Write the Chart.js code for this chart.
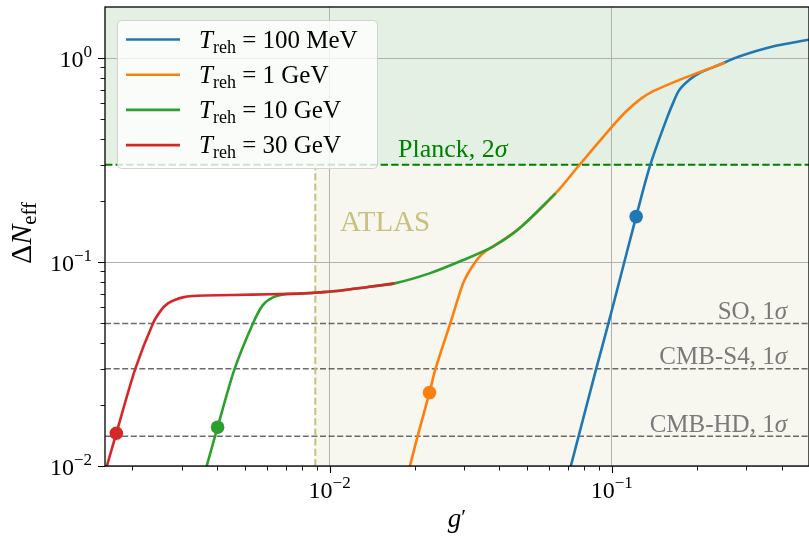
<!DOCTYPE html>
<html>
<head>
<meta charset="utf-8">
<script src="https://cdn.jsdelivr.net/npm/chart.js@4.4.1/dist/chart.umd.min.js"></script>
<style>
  html, body { margin: 0; padding: 0; background: #fff; }
  #wrap { width: 809px; height: 537px; }
</style>
</head>
<body>
<div id="wrap"><canvas id="chart" width="809" height="537"></canvas></div>
<script>
// axis ranges (log-log)
const X_MIN = 0.0016;
const X_MAX = 0.5;
const Y_MIN = 0.01;
const Y_MAX = 1.78;

// Delta N_eff vs g' for each reheating temperature
const blueG = [0.0712, 0.0769, 0.0881, 0.0973, 0.1108, 0.122, 0.137, 0.156, 0.1667, 0.1738, 0.1885, 0.2045, 0.2406, 0.2827, 0.3718, 0.5];
const blueN = [0.0097, 0.0146, 0.03, 0.05, 0.1, 0.167, 0.3, 0.498, 0.624, 0.699, 0.782, 0.844, 0.927, 1.018, 1.14, 1.23];

const orangeG = [0.0189, 0.02051, 0.0226, 0.02374, 0.02677, 0.0289, 0.03007, 0.032, 0.034, 0.0359, 0.0379, 0.0471, 0.0632, 0.0769, 0.1008, 0.1124, 0.1253, 0.1397, 0.1738, 0.2045, 0.2528];
const orangeN = [0.00903, 0.014, 0.0229, 0.03, 0.05, 0.0702, 0.0816, 0.0948, 0.1062, 0.1136, 0.119, 0.1464, 0.217, 0.3, 0.465, 0.547, 0.624, 0.686, 0.782, 0.852, 0.9515];

const greenG = [0.0036, 0.00401, 0.00461, 0.00535, 0.0058, 0.0063, 0.00702, 0.00783, 0.0092, 0.01085, 0.0135, 0.01698, 0.0226, 0.0296, 0.0379, 0.0471, 0.0632];
const greenN = [0.0091, 0.0155, 0.03, 0.05, 0.0615, 0.0671, 0.0697, 0.0700, 0.0710, 0.0723, 0.0753, 0.0786, 0.088, 0.102, 0.119, 0.1464, 0.217];

const redG = [0.0016, 0.001755, 0.00205, 0.002366, 0.00253, 0.002674, 0.002825, 0.003022, 0.00328, 0.0036, 0.00455, 0.0062, 0.00783, 0.0092, 0.01085, 0.0135, 0.01698];
const redN = [0.0093, 0.01447, 0.03, 0.05, 0.0581, 0.0627, 0.0651, 0.0671, 0.0681, 0.0685, 0.0689, 0.0695, 0.0700, 0.0710, 0.0723, 0.0753, 0.0786];

// benchmark points, one per curve (blue, orange, green, red)
const dotG = [0.122, 0.0226, 0.00401, 0.001755];
const dotN = [0.167, 0.0229, 0.0155, 0.01447];

const legendTemps = ["100 MeV", "1 GeV", "10 GeV", "30 GeV"];
const seriesColors = ["#1f77b4", "#ff7f0e", "#2ca02c", "#d62728"];

// bounds
const planckN = 0.3;
const soN = 0.05;
const s4N = 0.03;
const hdN = 0.014;
const atlasG = 0.0089;

const xMajorTicks = [0.01, 0.1];
const xMinorTicks = [0.002, 0.003, 0.004, 0.005, 0.006, 0.007, 0.008, 0.009,
  0.02, 0.03, 0.04, 0.05, 0.06, 0.07, 0.08, 0.09, 0.2, 0.3, 0.4];
const yMajorTicks = [0.01, 0.1, 1];
const yMinorTicks = [0.02, 0.03, 0.04, 0.05, 0.06, 0.07, 0.08, 0.09,
  0.2, 0.3, 0.4, 0.5, 0.6, 0.7, 0.8, 0.9];
const xTickLabels = ["\u22122", "\u22121"];
const yTickLabels = ["\u22122", "\u22121", "0"];

const SERIF = '"Liberation Serif", "DejaVu Serif", serif';
const roman = size => `${size}px ${SERIF}`;
const italic = size => `italic ${size}px ${SERIF}`;

function points(xs, ys) {
  return xs.map((x, i) => ({ x, y: ys[i] }));
}

function curve(xs, ys, color, order) {
  return {
    data: points(xs, ys),
    showLine: true,
    borderColor: color,
    borderWidth: 2.6,
    pointRadius: 0,
    tension: 0.3,
    clip: 0,
    order
  };
}

function hline(value, color, width, dash) {
  return {
    data: [{ x: X_MIN, y: value }, { x: X_MAX, y: value }],
    showLine: true,
    borderColor: color,
    borderWidth: width,
    borderDash: dash,
    pointRadius: 0,
    clip: 0,
    order: 10
  };
}

const datasets = [
  curve(blueG, blueN, seriesColors[0], 4),
  curve(orangeG, orangeN, seriesColors[1], 3),
  curve(greenG, greenN, seriesColors[2], 2),
  curve(redG, redN, seriesColors[3], 1),
  hline(planckN, "#008000", 2, [7.4, 3.2]),
  hline(soN, "rgba(70,70,70,0.8)", 1.6, [6, 2.6]),
  hline(s4N, "rgba(70,70,70,0.8)", 1.6, [6, 2.6]),
  hline(hdN, "rgba(70,70,70,0.8)", 1.6, [6, 2.6]),
  {
    data: [{ x: atlasG, y: Y_MIN }, { x: atlasG, y: planckN }],
    showLine: true,
    borderColor: "#c8c07c",
    borderWidth: 2,
    borderDash: [7, 3.2],
    pointRadius: 0,
    clip: 0,
    order: 9
  },
  {
    data: points(dotG, dotN),
    showLine: false,
    pointRadius: 6.8,
    pointBackgroundColor: seriesColors,
    pointBorderWidth: 0,
    order: 0
  }
];

// draws a run of text pieces (italic, roman, sub/superscripts) from x on baseline y
function drawRuns(ctx, runs, x, y, align) {
  let width = 0;
  runs.forEach(r => {
    ctx.font = r.font;
    width += ctx.measureText(r.text).width;
  });
  let cx = x;
  if (align === "right") cx = x - width;
  if (align === "center") cx = x - width / 2;
  ctx.textAlign = "left";
  ctx.textBaseline = "alphabetic";
  runs.forEach(r => {
    ctx.font = r.font;
    ctx.fillText(r.text, cx, y + (r.dy || 0));
    cx += ctx.measureText(r.text).width;
  });
}

function powerLabel(exp) {
  return [
    { text: "10", font: roman(24) },
    { text: exp, font: roman(17), dy: -10 }
  ];
}

const decorations = {
  id: "decorations",
  beforeDraw(chart) {
    const { ctx, chartArea: a, scales } = chart;
    const yP = scales.y.getPixelForValue(planckN);
    const xA = scales.x.getPixelForValue(atlasG);
    ctx.save();
    ctx.fillStyle = "#e5f0e4";
    ctx.fillRect(a.left, a.top, a.right - a.left, yP - a.top);
    ctx.fillStyle = "#f7f6ef";
    ctx.fillRect(xA, yP, a.right - xA, a.bottom - yP);
    ctx.restore();
  },
  afterDatasetsDraw(chart) {
    const { ctx, chartArea: a, scales } = chart;
    const xs = scales.x, ys = scales.y;
    ctx.save();

    // bound labels
    ctx.fillStyle = "#008000";
    drawRuns(ctx, [
      { text: "Planck, 2", font: roman(26) },
      { text: "\u03c3", font: italic(26) }
    ], 398, ys.getPixelForValue(planckN) - 8);

    ctx.fillStyle = "#c8c07c";
    drawRuns(ctx, [{ text: "ATLAS", font: roman(29) }], 340, 231);

    ctx.fillStyle = "#7a7a7a";
    [["SO, 1", soN], ["CMB-S4, 1", s4N], ["CMB-HD, 1", hdN]].forEach(([t, v]) => {
      drawRuns(ctx, [
        { text: t, font: roman(25) },
        { text: "\u03c3", font: italic(25) }
      ], 787, ys.getPixelForValue(v) - 4.5, "right");
    });

    // frame
    ctx.strokeStyle = "#000";
    ctx.lineWidth = 1.3;
    ctx.strokeRect(a.left, a.top, a.right - a.left, a.bottom - a.top);

    // tick marks
    ctx.lineWidth = 1.1;
    ctx.beginPath();
    xMajorTicks.forEach(v => {
      const p = Math.round(xs.getPixelForValue(v)) + 0.5;
      ctx.moveTo(p, a.bottom); ctx.lineTo(p, a.bottom + 7);
    });
    yMajorTicks.forEach(v => {
      const p = Math.round(ys.getPixelForValue(v)) + 0.5;
      ctx.moveTo(a.left, p); ctx.lineTo(a.left - 7, p);
    });
    ctx.stroke();
    ctx.lineWidth = 0.9;
    ctx.beginPath();
    xMinorTicks.forEach(v => {
      const p = Math.round(xs.getPixelForValue(v)) + 0.5;
      ctx.moveTo(p, a.bottom); ctx.lineTo(p, a.bottom + 4.5);
    });
    yMinorTicks.forEach(v => {
      const p = Math.round(ys.getPixelForValue(v)) + 0.5;
      ctx.moveTo(a.left, p); ctx.lineTo(a.left - 4.5, p);
    });
    ctx.stroke();

    // tick labels
    ctx.fillStyle = "#000";
    xMajorTicks.forEach((v, i) => {
      drawRuns(ctx, powerLabel(xTickLabels[i]), xs.getPixelForValue(v), a.bottom + 32, "center");
    });
    yMajorTicks.forEach((v, i) => {
      drawRuns(ctx, powerLabel(yTickLabels[i]), a.left - 13, ys.getPixelForValue(v) + 9, "right");
    });

    // axis titles
    drawRuns(ctx, [
      { text: "g", font: italic(27) },
      { text: "\u2032", font: roman(22), dy: -3 }
    ], (a.left + a.right) / 2, 527, "center");

    ctx.save();
    ctx.translate(31, 233);
    ctx.rotate(-Math.PI / 2);
    drawRuns(ctx, [
      { text: "\u0394", font: roman(30) },
      { text: "N", font: italic(30) },
      { text: "eff", font: roman(21), dy: 5 }
    ], 0, 0, "center");
    ctx.restore();

    // legend
    const lx = 117.5, ly = 20.5, lw = 260, lh = 148;
    ctx.beginPath();
    ctx.roundRect(lx, ly, lw, lh, 4);
    ctx.fillStyle = "rgba(255,255,255,0.8)";
    ctx.fill();
    ctx.strokeStyle = "#d2d2d2";
    ctx.lineWidth = 1;
    ctx.stroke();
    legendTemps.forEach((label, i) => {
      const y = 39.5 + i * 35.2;
      ctx.strokeStyle = seriesColors[i];
      ctx.lineWidth = 2.6;
      ctx.beginPath();
      ctx.moveTo(126, y);
      ctx.lineTo(180, y);
      ctx.stroke();
      ctx.fillStyle = "#000";
      drawRuns(ctx, [
        { text: "T", font: italic(25) },
        { text: "reh", font: roman(18), dy: 5 },
        { text: " = " + label, font: roman(25) }
      ], 199, y + 8);
    });

    ctx.restore();
  }
};

function majorOnly(list, color) {
  return ctx => (ctx.tick && list.some(v => Math.abs(v - ctx.tick.value) / v < 1e-6) ? color : "rgba(0,0,0,0)");
}

new Chart(document.getElementById("chart"), {
  type: "scatter",
  data: { datasets },
  options: {
    responsive: false,
    animation: false,
    events: [],
    layout: { autoPadding: false, padding: { left: 105, top: 7, right: 0, bottom: 71 } },
    plugins: { legend: { display: false }, tooltip: { enabled: false } },
    scales: {
      x: {
        type: "logarithmic",
        min: X_MIN,
        max: X_MAX,
        afterBuildTicks: s => { s.ticks = xMajorTicks.map(value => ({ value })); },
        afterFit: s => { s.height = 0; },
        ticks: { display: false },
        grid: { color: majorOnly(xMajorTicks, "#b0b0b0"), lineWidth: 1, drawTicks: false },
        border: { display: false }
      },
      y: {
        type: "logarithmic",
        min: Y_MIN,
        max: Y_MAX,
        afterBuildTicks: s => { s.ticks = yMajorTicks.map(value => ({ value })); },
        afterFit: s => { s.width = 0; },
        ticks: { display: false },
        grid: { color: majorOnly(yMajorTicks, "#b0b0b0"), lineWidth: 1, drawTicks: false },
        border: { display: false }
      }
    }
  },
  plugins: [decorations]
});
</script>
</body>
</html>
